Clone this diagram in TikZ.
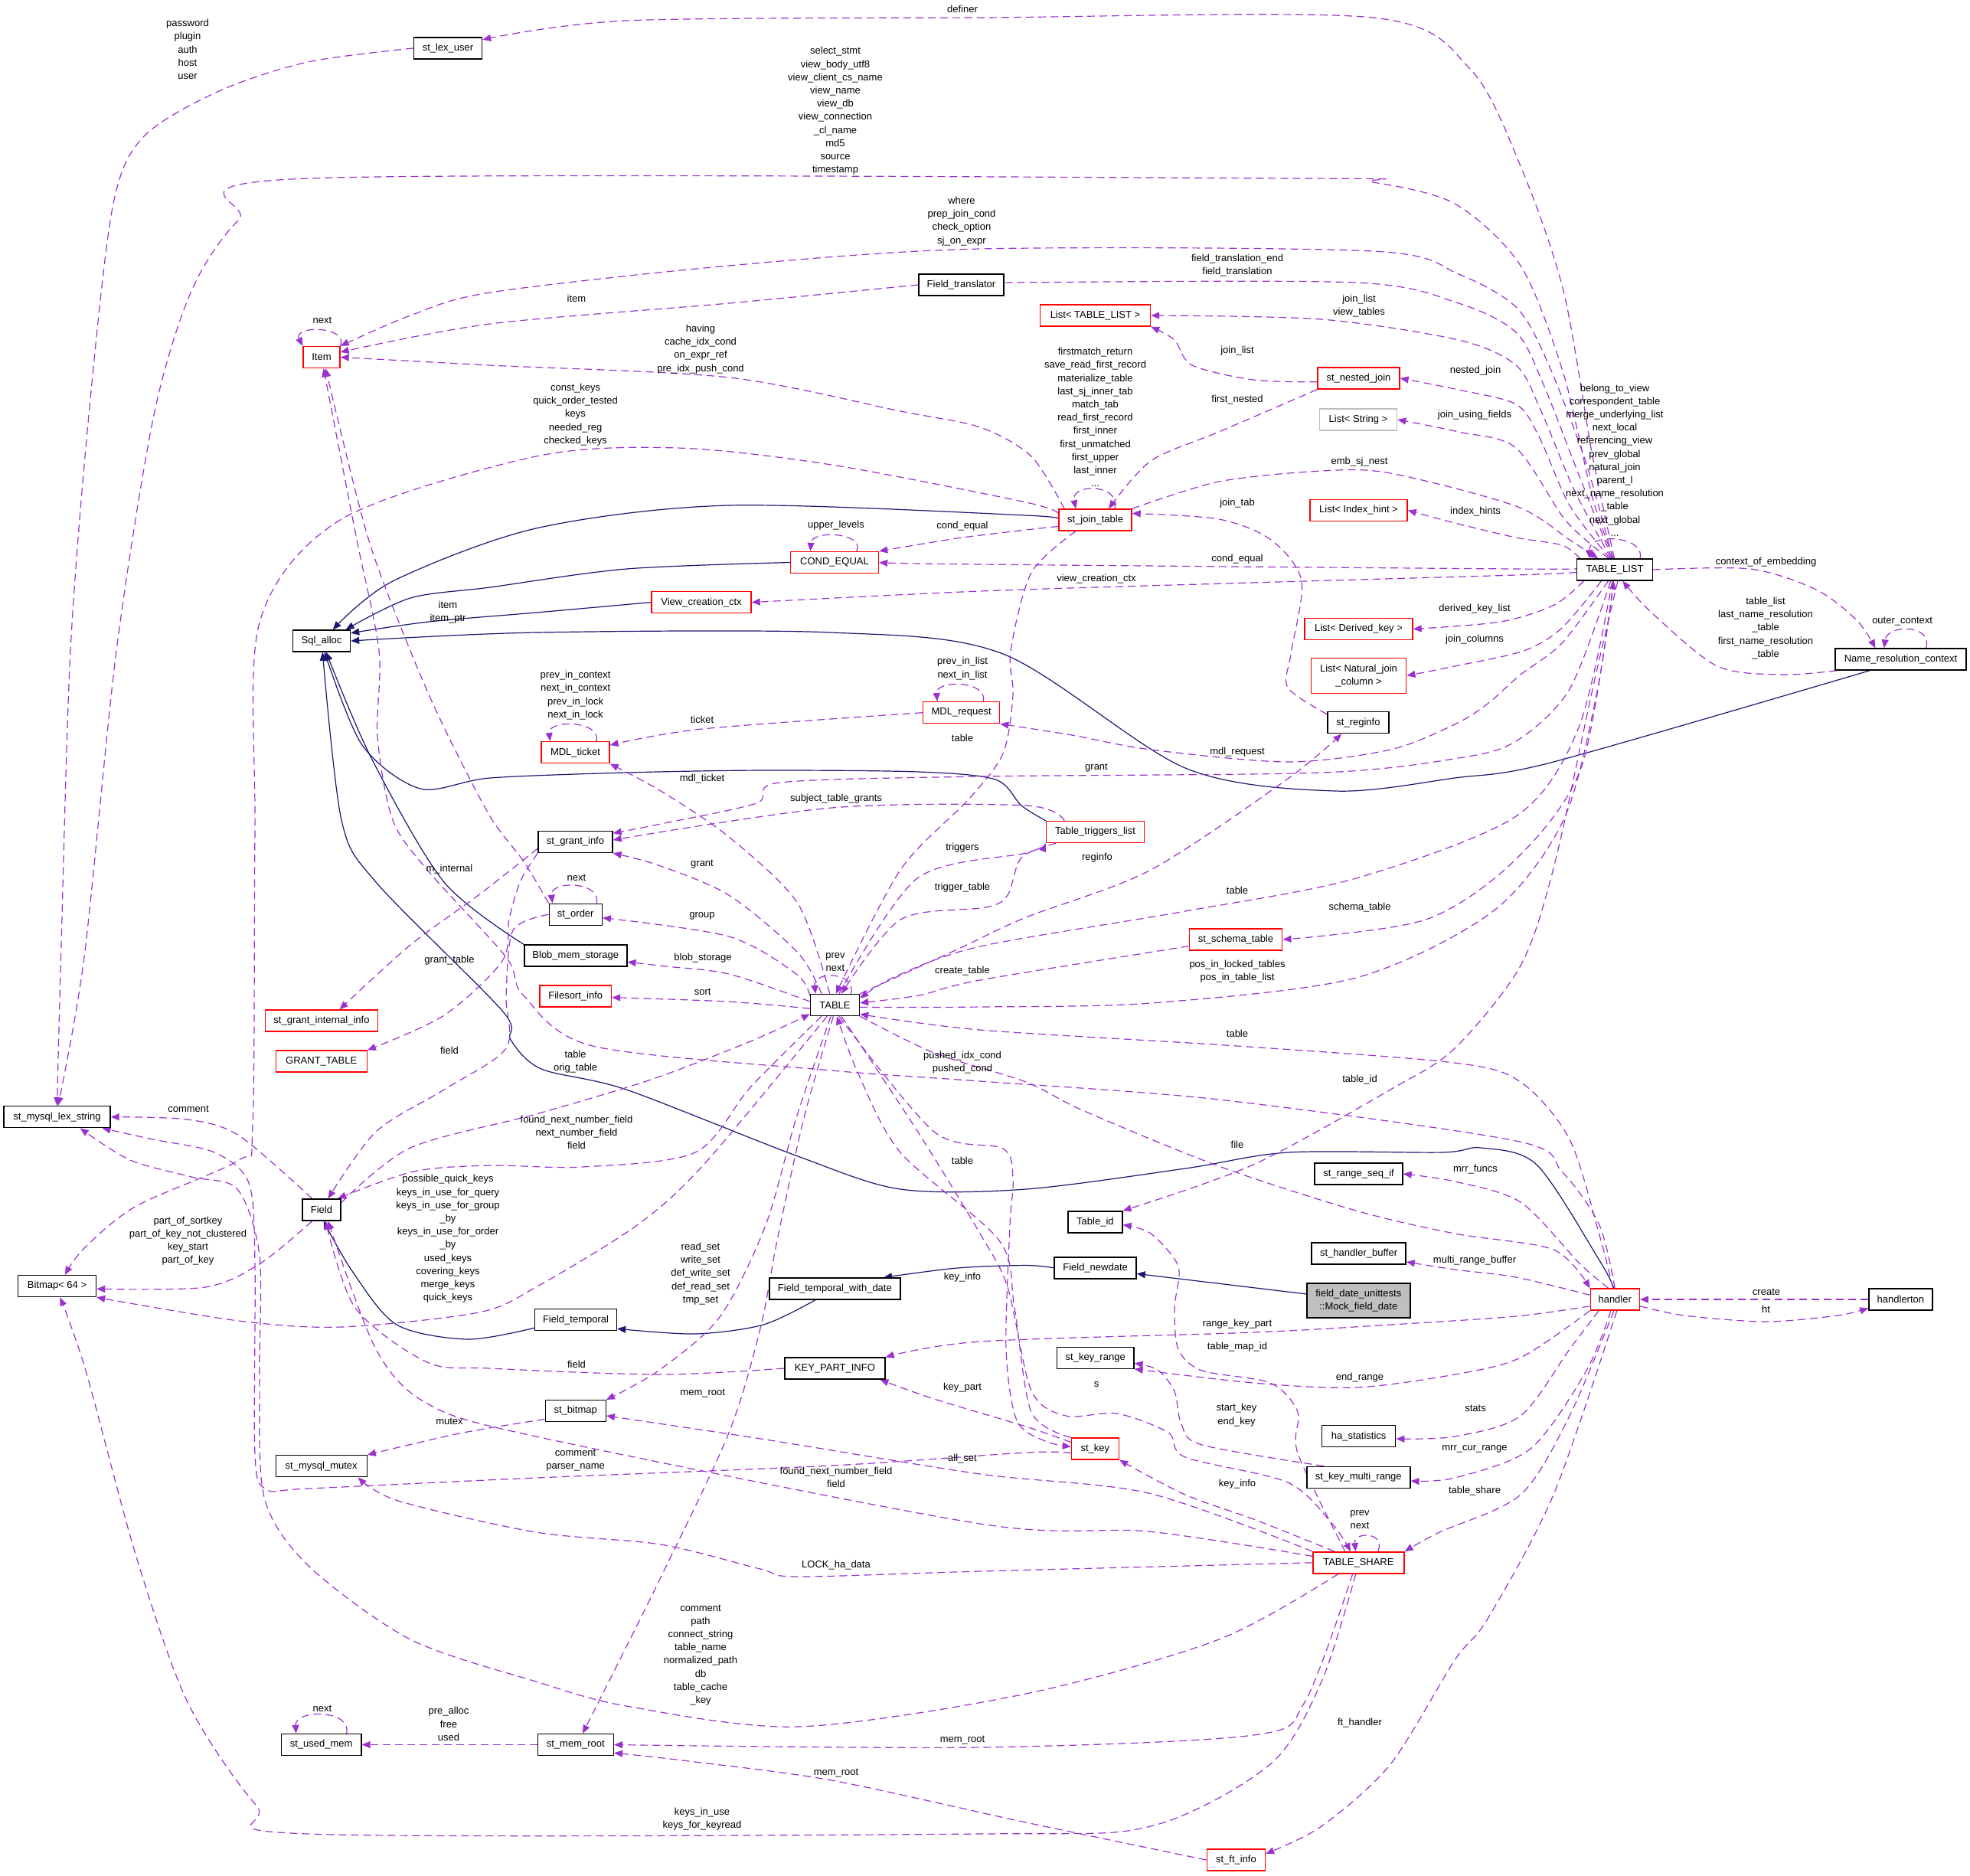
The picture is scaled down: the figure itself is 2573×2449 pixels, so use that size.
\documentclass[tikz,border=0pt]{standalone}
\usepackage{fontspec}
\setmainfont{Liberation Sans}
\usetikzlibrary{arrows.meta}
\pgfdeclarelayer{bg}
\pgfsetlayers{bg,main}
\definecolor{depc}{HTML}{9A32CD}
\definecolor{inhc}{HTML}{191970}
\definecolor{grc}{HTML}{BFBFBF}
\begin{document}
\begin{tikzpicture}[x=0.5pt,y=-0.5pt,
  cls/.style={draw=black, fill=white, line width=0.7pt, inner sep=0pt, minimum height=14pt, align=center, font=\fontsize{6.5}{8.6}\selectfont},
  rcls/.style={cls, draw=red},
  lbl/.style={align=center, inner sep=0pt, font=\fontsize{6.5}{8.6}\selectfont},
  dep/.style={draw=depc, line width=0.6pt, dash pattern=on 5pt off 3pt, -{Triangle[length=5.5pt,width=4.5pt]}},
  inh/.style={draw=inhc, line width=0.6pt, -{Triangle[length=5.5pt,width=4.5pt]}}
]
\useasboundingbox (0,0) rectangle (2573,2449);
% ---------- nodes ----------
\node[cls, minimum width=44.5pt] (lexuser) at (585,63) {st\_lex\_user};
\node[rcls, minimum width=24pt] (item) at (420,466.5) {Item};
\node[cls, minimum width=37.5pt] (sqlalloc) at (420,837) {Sql\_alloc};
\node[cls, minimum width=55.5pt] (ftrans) at (1255.5,372) {Field\_translator};
\node[rcls, minimum width=57.5pt] (condeq) at (1090,734.5) {COND\_EQUAL};
\node[rcls, minimum width=65pt] (vcc) at (916,786.6) {View\_creation\_ctx};
\node[rcls, minimum width=72pt] (listtl) at (1430.5,412) {List< TABLE\_LIST >};
\node[rcls, minimum width=53.5pt] (nestjoin) at (1774.5,494) {st\_nested\_join};
\node[cls, draw=grc, minimum width=50.5pt] (liststr) at (1774,548) {List< String >};
\node[rcls, minimum width=47.5pt] (jointab) at (1430.5,679) {st\_join\_table};
\node[rcls, minimum width=63.5pt] (listidx) at (1774.5,666.5) {List< Index\_hint >};
\node[rcls, minimum width=70.5pt] (listdk) at (1774.5,821.5) {List< Derived\_key >};
\node[cls, minimum width=49.5pt] (tlist) at (2109,744) {TABLE\_LIST};
\node[cls, minimum width=85.5pt] (nrc) at (2482.5,861) {Name\_resolution\_context};
\node[rcls, minimum width=62.25pt, minimum height=22.8pt] (listnjc) at (1774.5,882.4) {List< Natural\_join\\\_column >};
\node[cls, minimum width=40pt] (reginfo) at (1774,943.7) {st\_reginfo};
\node[rcls, minimum width=50pt] (mdlreq) at (1255.6,930.7) {MDL\_request};
\node[rcls, minimum width=44.5pt] (mdltick) at (751.5,982.7) {MDL\_ticket};
\node[rcls, minimum width=64pt] (ttl) at (1430.5,1086.5) {Table\_triggers\_list};
\node[cls, minimum width=48.5pt] (grantinfo) at (751.5,1099.5) {st\_grant\_info};
\node[cls, minimum width=34.5pt] (order) at (751.7,1194.3) {st\_order};
\node[cls, minimum width=67pt] (blob) at (751.8,1248) {Blob\_mem\_storage};
\node[rcls, minimum width=46.75pt] (filesort) at (751.7,1301) {Filesort\_info};
\node[cls, minimum width=32pt] (table) at (1090.5,1312.5) {TABLE};
\node[rcls, minimum width=60.75pt] (schema) at (1614,1227) {st\_schema\_table};
\node[rcls, minimum width=73.5pt] (gii) at (420,1333) {st\_grant\_internal\_info};
\node[rcls, minimum width=59.5pt] (granttab) at (419.7,1386) {GRANT\_TABLE};
\node[cls, minimum width=69.5pt] (lexstr) at (74.5,1458.7) {st\_mysql\_lex\_string};
\node[cls, minimum width=25pt] (field) at (420,1580) {Field};
\node[cls, minimum width=51pt] (bitmap) at (74.5,1679.6) {Bitmap< 64 >};
\node[cls, minimum width=53.5pt] (ftemp) at (752,1723.7) {Field\_temporal};
\node[cls, minimum width=85.5pt] (ftwd) at (1090.4,1683) {Field\_temporal\_with\_date};
\node[cls, minimum width=65.5pt] (kpi) at (1090.4,1787) {KEY\_PART\_INFO};
\node[cls, minimum width=39.5pt] (stbitmap) at (751.7,1842.6) {st\_bitmap};
\node[cls, minimum width=59.5pt] (mutex) at (419.7,1914.6) {st\_mysql\_mutex};
\node[cls, minimum width=52.25pt] (usedmem) at (419.6,2278.5) {st\_used\_mem};
\node[cls, minimum width=49.5pt] (memroot) at (751.8,2278.5) {st\_mem\_root};
\node[cls, minimum width=53.5pt] (fnewdate) at (1430.6,1655.8) {Field\_newdate};
\node[cls, fill=grc, minimum width=67.5pt, minimum height=22.5pt] (mock) at (1774.3,1698.3) {field\_date\_unittests\\::Mock\_field\_date};
\node[cls, minimum width=35.5pt] (tableid) at (1430.4,1595.8) {Table\_id};
\node[cls, minimum width=57.5pt] (rangeseq) at (1774.5,1533) {st\_range\_seq\_if};
\node[cls, minimum width=61.5pt] (hbuf) at (1774.6,1637) {st\_handler\_buffer};
\node[cls, minimum width=50.25pt] (keyrange) at (1430.7,1773.2) {st\_key\_range};
\node[rcls, minimum width=31pt] (stkey) at (1430.4,1892) {st\_key};
\node[cls, minimum width=48pt] (hastat) at (1774.6,1875.6) {ha\_statistics};
\node[cls, minimum width=67.5pt] (kmr) at (1774.3,1929.3) {st\_key\_multi\_range};
\node[rcls, minimum width=59.5pt] (tshare) at (1774.4,2040.8) {TABLE\_SHARE};
\node[rcls, minimum width=38pt] (ftinfo) at (1614.4,2429) {st\_ft\_info};
\node[rcls, minimum width=32pt] (handler) at (2109.2,1697) {handler};
\node[cls, minimum width=41.5pt] (handlerton) at (2482.4,1697) {handlerton};
% ---------- edges ----------
\begin{pgfonlayer}{bg}
% inheritance
\draw[inh] plot[smooth,tension=0.5] coordinates {(jointab.west) (1340,673) (952,660) (700,690) (513,759) (sqlalloc.45)};
\draw[inh] plot[smooth,tension=0.5] coordinates {(condeq.west) (818,743) (640,767) (536,781) (sqlalloc.25)};
\draw[inh] plot[smooth,tension=0.5] coordinates {(vcc.west) (700,800) (560,812) (sqlalloc.15)};
\draw[inh] plot[smooth,tension=0.5] coordinates {(nrc.200) (2029,995) (1900,1016) (1744,1033) (1548,1003) (1310,854) (1086,826) (700,826) (sqlalloc.east)};
\draw[inh] plot[smooth,tension=0.5] coordinates {(ttl.north west) (1334,1052) (1300,1018) (1200,1008) (997,1006) (818,1009) (640,1016) (549,1030) (473,973) (sqlalloc.-75)};
\draw[inh] plot[smooth,tension=0.5] coordinates {(blob.north west) (580,1152) (485,990) (sqlalloc.-68)};
\draw[inh] plot[smooth,tension=0.5] coordinates {(handler.95) (2089,1646) (2007,1521) (1934,1499) (1883,1505) (1682,1505) (1548,1526) (1340,1553) (1176,1553) (1042,1510) (818,1423) (707,1396) (667,1358) (656,1320) (491,1152) (446,1071) (sqlalloc.-85)};
\draw[inh] plot[smooth,tension=0.5] coordinates {(ftemp.191) (611,1749) (518,1730) (460,1660) (field.-80)};
\draw[inh] plot[smooth,tension=0.5] coordinates {(ftwd.210) (997,1730) (908,1742) (ftemp.-12)};
\draw[inh] plot[smooth,tension=0.5] coordinates {(fnewdate.west) (1340,1652.5) (1250,1656) (ftwd.13)};
\draw[inh] (mock.173) -- (fnewdate.-8);
% TABLE_LIST fan
\draw[dep] plot[smooth,tension=0.5] coordinates {(tlist.92) (2080,596) (2042,380) (1986,217) (1920,90) (1793,23) (1280,23) (818,27) (lexuser.14)};
\draw[dep] plot[smooth,tension=0.5] coordinates {(lexuser.west) (402,81) (286,119) (187,179) (147,271) (116,542) (92,850) (80,1234) (lexstr.north)};
\draw[dep] plot[smooth,tension=0.5] coordinates {(tlist.96) (2080,650) (2042,488) (1986,347) (1900,266) (1793,238) (1700,233) (402,233) (312,287) (250,380) (201,542) (152,850) (110,1250) (lexstr.85)};
\draw[dep] plot[smooth,tension=0.5] coordinates {(tlist.100) (2070,600) (2020,470) (1980,401) (1905,358) (1793,328) (1280,325) (952,347) (640,382) (536,412) (item.north east)};
\draw[dep] plot[smooth,tension=0.5] coordinates {(tlist.104) (2062,620) (2015,500) (1980,434) (1905,396) (1771,369) (1325,369) (ftrans.east)};
\draw[dep] plot[smooth,tension=0.5] coordinates {(tlist.108) (2056,640) (2012,535) (1980,477) (1905,444) (1726,417) (listtl.east)};
\draw[dep] plot[smooth,tension=0.5] coordinates {(tlist.113) (2050,660) (2010,570) (1980,528) (1905,509) (nestjoin.east)};
\draw[dep] plot[smooth,tension=0.5] coordinates {(tlist.118) (2045,680) (1980,585) (1905,564) (liststr.east)};
\draw[dep] plot[smooth,tension=0.5] coordinates {(jointab.north east) (1592,629) (1726,615) (1816,618) (1980,661) (2050,705) (tlist.146)};
\draw[dep] plot[smooth,tension=0.5] coordinates {(tlist.162) (2040,712) (1980,702) (1900,683) (listidx.east)};
\draw[dep] plot[smooth,tension=0.5] coordinates {(tlist.178) (1980,743) (1280,737) (condeq.east)};
\draw[dep] plot[smooth,tension=0.5] coordinates {(tlist.184) (1980,751) (1600,762) (1280,772) (vcc.east)};
\draw[dep] plot[smooth,tension=0.5] coordinates {(tlist.200) (2030,790) (1960,812) (listdk.east)};
\draw[dep] plot[smooth,tension=0.5] coordinates {(tlist.220) (2040,820) (1990,850) (1900,870) (listnjc.east)};
\draw[dep] plot[smooth,tension=0.5] coordinates {(tlist.240) (2040,840) (1986,881) (1943,919) (1900,946) (1816,979) (1682,995) (1503,979) (1400,960) (mdlreq.south east)};
\draw[dep] plot[smooth,tension=0.5] coordinates {(tlist.250) (2050,900) (1980,968) (1905,990) (1726,1009) (1280,1014) (1019,1022) (988,1049) (863,1076) (grantinfo.13)};
\draw[dep] plot[smooth,tension=0.5] coordinates {(tlist.258) (2062,950) (1980,1066) (1771,1147) (1548,1190) (1280,1236) (1170,1275) (table.15)};
\draw[dep] plot[smooth,tension=0.5] coordinates {(tlist.264) (2066,1000) (1980,1122) (1862,1201) (schema.east)};
\draw[dep] plot[smooth,tension=0.5] coordinates {(tlist.-75) (2080,900) (2030,1130) (1986,1261) (1900,1369) (1816,1423) (1637,1521) (tableid.north east)};
\draw[dep] plot[smooth,tension=0.5] coordinates {(table.-5) (1280,1315) (1503,1310) (1771,1277) (1950,1190) (2042,1071) (2085,908) (tlist.-95)};
\draw[dep] plot[smooth,tension=0.5] coordinates {(nrc.190) (2329,881) (2243,870) (2157,800) (tlist.-55)};
\draw[dep] plot[smooth,tension=0.5] coordinates {(tlist.east) (2286,743) (2372,770) (2425,810) (nrc.156)};
\draw[dep] (nrc.24) .. controls (2525,815) and (2465,815) .. (nrc.146);
\draw[dep] (tlist.24) .. controls (2150,700) and (2075,695) .. (tlist.156);
% st_join_table
\draw[dep] plot[smooth,tension=0.5] coordinates {(jointab.160) (1347,596) (1280,558) (1176,537) (952,493) (640,477) (item.east)};
\draw[dep] plot[smooth,tension=0.5] coordinates {(jointab.170) (1340,656) (1086,607) (885,585) (700,596) (446,678) (339,813) (333,1085) (330,1472) (312,1515) (178,1575) (110,1630) (bitmap.55)};
\draw[dep] plot[smooth,tension=0.5] coordinates {(jointab.190) (1340,692) (1250,703) (condeq.north east)};
\draw[dep] plot[smooth,tension=0.5] coordinates {(jointab.210) (1347,748) (1320,850) (1323,908) (1310,984) (1265,1044) (1176,1136) (table.85)};
\draw[dep] (jointab.30) .. controls (1465,632) and (1398,630) .. (jointab.150);
\draw[dep] plot[smooth,tension=0.5] coordinates {(nestjoin.south west) (1592,564) (1503,602) (jointab.40)};
\draw[dep] plot[smooth,tension=0.5] coordinates {(nestjoin.185) (1637,496) (1557,477) (1534,444) (listtl.south east)};
\draw[dep] plot[smooth,tension=0.5] coordinates {(reginfo.165) (1682,898) (1686,854) (1700,759) (1660,705) (1592,678) (jointab.10)};
\draw[dep] (condeq.27) .. controls (1130,695) and (1060,692) .. (condeq.155);
% Item
\draw[dep] plot[smooth,tension=0.5] coordinates {(ftrans.west) (952,396) (640,423) (item.15)};
\draw[dep] (item.north east) .. controls (455,425) and (382,425) .. (item.north west);
% TABLE
\draw[dep] plot[smooth,tension=0.5] coordinates {(table.140) (1042,1244) (952,1169) (860,1130) (grantinfo.south east)};
\draw[dep] plot[smooth,tension=0.5] coordinates {(table.160) (1040,1272) (952,1223) (order.-7)};
\draw[dep] plot[smooth,tension=0.5] coordinates {(table.172) (952,1272) (870,1262) (blob.-7)};
\draw[dep] plot[smooth,tension=0.5] coordinates {(table.188) (950,1308) (filesort.-2)};
\draw[dep] plot[smooth,tension=0.5] coordinates {(table.115) (1042,1180) (952,1093) (863,1033) (mdltick.south east)};
\draw[dep] (table.35) .. controls (1118,1268) and (1062,1268) .. (table.150);
\draw[dep] plot[smooth,tension=0.5] coordinates {(table.70) (1198,1147) (1340,1114) (ttl.south west)};
\draw[dep] plot[smooth,tension=0.5] coordinates {(ttl.196) (1334,1120) (1316,1169) (1287,1185) (1176,1201) (table.60)};
\draw[dep] plot[smooth,tension=0.5] coordinates {(table.north east) (1250,1240) (1340,1198) (1503,1136) (1682,1017) (reginfo.214)};
\draw[dep] plot[smooth,tension=0.5] coordinates {(schema.188) (1280,1280) (1200,1300) (table.5)};
\draw[dep] plot[smooth,tension=0.5] coordinates {(handler.100) (2089,1613) (2050,1488) (1986,1413) (1900,1388) (1616,1366) (1280,1345) (table.-20)};
\draw[dep] plot[smooth,tension=0.5] coordinates {(table.south east) (1220,1375) (1340,1413) (1414,1450) (1592,1523) (1771,1581) (1900,1611) (2029,1632) (handler.north west)};
\draw[dep] plot[smooth,tension=0.5] coordinates {(handler.north) (2089,1600) (2040,1530) (1980,1490) (1592,1436) (1280,1412) (1086,1398) (774,1366) (683,1299) (661,1250) (558,1136) (513,1071) (493,963) (495,850) (465,700) (item.-80)};
\draw[dep] plot[smooth,tension=0.5] coordinates {(field.20) (536,1499) (700,1455) (850,1410) (980,1360) (table.200)};
\draw[dep] plot[smooth,tension=0.5] coordinates {(table.220) (980,1420) (908,1505) (760,1524) (640,1522) (540,1530) (field.35)};
\draw[dep] plot[smooth,tension=0.5] coordinates {(table.235) (920,1520) (832,1600) (700,1681) (625,1714) (446,1733) (312,1725) (bitmap.south east)};
\draw[dep] plot[smooth,tension=0.5] coordinates {(table.250) (1040,1460) (1000,1600) (940,1720) (860,1790) (stbitmap.north east)};
\draw[dep] plot[smooth,tension=0.5] coordinates {(table.262) (1050,1460) (1015,1620) (993,1735) (952,1871) (863,2060) (memroot.58)};
\draw[dep] plot[smooth,tension=0.5] coordinates {(stkey.north west) (1347,1844) (1325,1708) (1305,1620) (1176,1505) (1120,1400) (table.-80)};
\draw[dep] plot[smooth,tension=0.5] coordinates {(table.-70) (1220,1478) (1310,1500) (1323,1540) (1319,1600) (1314,1762) (1328,1855) (1365,1882) (stkey.175)};
\draw[dep] plot[smooth,tension=0.5] coordinates {(table.-60) (1200,1480) (1280,1611) (1316,1681) (1347,1816) (1392,1849) (1459,1846) (1526,1871) (1548,1903) (1682,1936) (1740,1990) (tshare.125)};
% keys etc
\draw[dep] plot[smooth,tension=0.5] coordinates {(stkey.165) (1340,1863) (1220,1827) (kpi.-14)};
\draw[dep] plot[smooth,tension=0.5] coordinates {(kpi.west) (863,1795) (640,1787) (558,1779) (464,1708) (field.-70)};
\draw[dep] plot[smooth,tension=0.5] coordinates {(handler.195) (1980,1719) (1816,1730) (1637,1740) (1280,1752) (kpi.north east)};
\draw[dep] plot[smooth,tension=0.5] coordinates {(stkey.190) (1340,1897) (1086,1914) (700,1930) (402,1944) (348,1945) (333,1900) (333,1650) (325,1545) (280,1505) (200,1488) (lexstr.-14)};
\draw[dep] plot[smooth,tension=0.5] coordinates {(stbitmap.195) (600,1872) (mutex.north east)};
\draw[dep] plot[smooth,tension=0.5] coordinates {(tshare.north west) (1500,1950) (1280,1925) (1000,1880) (stbitmap.-9)};
\draw[dep] plot[smooth,tension=0.5] coordinates {(tshare.172) (1500,2000) (1280,1990) (700,1876) (558,1833) (491,1762) (field.-60)};
\draw[dep] plot[smooth,tension=0.5] coordinates {(tshare.west) (1280,2052) (1042,2059) (993,2049) (863,2017) (700,2001) (520,1960) (mutex.-17)};
\draw[dep] plot[smooth,tension=0.5] coordinates {(tshare.209) (1592,2141) (1340,2212) (1042,2255) (818,2228) (700,2196) (536,2141) (402,2044) (345,1955) (339,1800) (339,1640) (310,1553) (250,1537) (170,1515) (lexstr.-26)};
\draw[dep] plot[smooth,tension=0.5] coordinates {(tshare.242) (1704,2223) (1637,2266) (1280,2282) (memroot.east)};
\draw[dep] plot[smooth,tension=0.5] coordinates {(tshare.256) (1726,2196) (1659,2304) (1503,2385) (1280,2395) (402,2395) (335,2358) (245,2223) (178,2033) (112,1790) (bitmap.-75)};
\draw[dep] plot[smooth,tension=0.5] coordinates {(ftinfo.west) (1340,2380) (1086,2325) (900,2300) (memroot.-12)};
\draw[dep] plot[smooth,tension=0.5] coordinates {(handler.-80) (2029,1952) (1943,2114) (1900,2168) (1816,2304) (1726,2385) (ftinfo.12)};
\draw[dep] (memroot.west) -- (usedmem.east);
\draw[dep] (usedmem.24) .. controls (460,2232) and (385,2232) .. (usedmem.156);
\draw[dep] plot[smooth,tension=0.5] coordinates {(tshare.140) (1695,1898) (1695,1844) (1659,1806) (1570,1790) (1539,1762) (1534,1708) (1539,1654) (1503,1611) (tableid.-6)};
\draw[dep] plot[smooth,tension=0.5] coordinates {(tshare.155) (1640,1985) (1548,1952) (stkey.south east)};
\draw[dep] plot[smooth,tension=0.5] coordinates {(kmr.162) (1570,1887) (1543,1860) (1534,1817) (1512,1789) (keyrange.-8)};
\draw[dep] (tshare.30) .. controls (1810,2000) and (1768,2000) .. (tshare.105);
% handler
\draw[dep] plot[smooth,tension=0.5] coordinates {(handler.120) (2063,1650) (1986,1570) (1900,1543) (rangeseq.east)};
\draw[dep] plot[smooth,tension=0.5] coordinates {(handler.170) (1980,1668) (1900,1658) (hbuf.-10)};
\draw[dep] plot[smooth,tension=0.5] coordinates {(handler.south west) (1986,1773) (1900,1795) (1771,1812) (1637,1806) (keyrange.south east)};
\draw[dep] plot[smooth,tension=0.5] coordinates {(handler.215) (2050,1762) (1986,1849) (1900,1876) (hastat.-4)};
\draw[dep] plot[smooth,tension=0.5] coordinates {(handler.-110) (2072,1790) (1999,1892) (1900,1930) (kmr.-4)};
\draw[dep] plot[smooth,tension=0.5] coordinates {(handler.-95) (2050,1849) (1986,1952) (1880,2001) (tshare.north east)};
\draw[dep] (handlerton.west) -- (handler.east);
\draw[dep] plot[smooth,tension=0.5] coordinates {(handler.-15) (2200,1718) (2306,1726) (2400,1718) (handlerton.195)};
% order / grant / mdl
\draw[dep] (order.28) .. controls (785,1150) and (718,1150) .. (order.154);
\draw[dep] plot[smooth,tension=0.5] coordinates {(order.north west) (684,1125) (640,1066) (580,950) (536,850) (480,700) (item.-70)};
\draw[dep] plot[smooth,tension=0.5] coordinates {(order.west) (670,1215) (661,1300) (661,1369) (580,1423) (491,1478) (field.60)};
\draw[dep] plot[smooth,tension=0.5] coordinates {(grantinfo.190) (625,1169) (536,1234) (gii.32)};
\draw[dep] plot[smooth,tension=0.5] coordinates {(grantinfo.south west) (680,1150) (665,1200) (656,1255) (580,1326) (granttab.north east)};
\draw[dep] plot[smooth,tension=0.5] coordinates {(ttl.160) (1340,1052) (1086,1055) (grantinfo.3)};
\draw[dep] plot[smooth,tension=0.5] coordinates {(mdlreq.west) (917,952) (mdltick.12)};
\draw[dep] (mdltick.28) .. controls (785,940) and (715,940) .. (mdltick.156);
\draw[dep] (mdlreq.27) .. controls (1290,888) and (1222,888) .. (mdlreq.155);
% Field
\draw[dep] plot[smooth,tension=0.5] coordinates {(field.130) (312,1483) (245,1462) (lexstr.east)};
\draw[dep] plot[smooth,tension=0.5] coordinates {(field.230) (340,1650) (268,1681) (bitmap.-4)};
\end{pgfonlayer}
% ---------- labels ----------
\node[lbl] at (1257,12) {definer};
\node[lbl] at (245,64.5) {password\\plugin\\auth\\host\\user};
\node[lbl] at (1091,145) {select\_stmt\\view\_body\_utf8\\view\_client\_cs\_name\\view\_name\\view\_db\\view\_connection\\\_cl\_name\\md5\\source\\timestamp};
\node[lbl] at (1256,289) {where\\prep\_join\_cond\\check\_option\\sj\_on\_expr};
\node[lbl] at (753,390) {item};
\node[lbl] at (1616,346.5) {field\_translation\_end\\field\_translation};
\node[lbl] at (1775,399.5) {join\_list\\view\_tables};
\node[lbl] at (421,418.5) {next};
\node[lbl] at (915,456) {having\\cache\_idx\_cond\\on\_expr\_ref\\pre\_idx\_push\_cond};
\node[lbl] at (1927,484) {nested\_join};
\node[lbl] at (1616,458.6) {join\_list};
\node[lbl] at (1616,522) {first\_nested};
\node[lbl] at (751.6,541.5) {const\_keys\\quick\_order\_tested\\keys\\needed\_reg\\checked\_keys};
\node[lbl] at (1926,542) {join\_using\_fields};
\node[lbl] at (1430.5,545) {firstmatch\_return\\save\_read\_first\_record\\materialize\_table\\last\_sj\_inner\_tab\\match\_tab\\read\_first\_record\\first\_inner\\first\_unmatched\\first\_upper\\last\_inner\\...};
\node[lbl] at (2109,601) {belong\_to\_view\\correspondent\_table\\merge\_underlying\_list\\next\_local\\referencing\_view\\prev\_global\\natural\_join\\parent\_l\\next\_name\_resolution\\\_table\\next\_global\\...};
\node[lbl] at (1775.5,603) {emb\_sj\_nest};
\node[lbl] at (1616,657) {join\_tab};
\node[lbl] at (1927,668) {index\_hints};
\node[lbl] at (1257,687) {cond\_equal};
\node[lbl] at (1092,686) {upper\_levels};
\node[lbl] at (1616,730) {cond\_equal};
\node[lbl] at (2306.5,734) {context\_of\_embedding};
\node[lbl] at (1432,756) {view\_creation\_ctx};
\node[lbl] at (1926,795) {derived\_key\_list};
\node[lbl] at (585,799.5) {item\\item\_ptr};
\node[lbl] at (2484.6,812) {outer\_context};
\node[lbl] at (2306,820.5) {table\_list\\last\_name\_resolution\\\_table\\first\_name\_resolution\\\_table};
\node[lbl] at (1926,835) {join\_columns};
\node[lbl] at (1257,873) {prev\_in\_list\\next\_in\_list};
\node[lbl] at (751.6,908) {prev\_in\_context\\next\_in\_context\\prev\_in\_lock\\next\_in\_lock};
\node[lbl] at (917,940) {ticket};
\node[lbl] at (1257,964) {table};
\node[lbl] at (1616,982) {mdl\_request};
\node[lbl] at (1432,1003) {grant};
\node[lbl] at (917,1017) {mdl\_ticket};
\node[lbl] at (1092,1043) {subject\_table\_grants};
\node[lbl] at (1257,1107) {triggers};
\node[lbl] at (1433,1120) {reginfo};
\node[lbl] at (917,1128.5) {grant};
\node[lbl] at (587,1135) {m\_internal};
\node[lbl] at (753,1146) {next};
\node[lbl] at (1257,1159) {trigger\_table};
\node[lbl] at (1616,1163) {table};
\node[lbl] at (1776,1185) {schema\_table};
\node[lbl] at (917,1196) {group};
\node[lbl] at (918,1251.5) {blob\_storage};
\node[lbl] at (587,1254) {grant\_table};
\node[lbl] at (1091,1256.5) {prev\\next};
\node[lbl] at (1257,1268) {create\_table};
\node[lbl] at (1616,1269) {pos\_in\_locked\_tables\\pos\_in\_table\_list};
\node[lbl] at (917.7,1295.5) {sort};
\node[lbl] at (1616,1350) {table};
\node[lbl] at (587,1372) {field};
\node[lbl] at (751.6,1386.5) {table\\orig\_table};
\node[lbl] at (1257,1388) {pushed\_idx\_cond\\pushed\_cond};
\node[lbl] at (1776,1410) {table\_id};
\node[lbl] at (246,1448) {comment};
\node[lbl] at (753,1479) {found\_next\_number\_field\\next\_number\_field\\field};
\node[lbl] at (1616,1495) {file};
\node[lbl] at (1257,1515.6) {table};
\node[lbl] at (1927,1527.5) {mrr\_funcs};
\node[lbl] at (585,1618) {possible\_quick\_keys\\keys\_in\_use\_for\_query\\keys\_in\_use\_for\_group\\\_by\\keys\_in\_use\_for\_order\\\_by\\used\_keys\\covering\_keys\\merge\_keys\\quick\_keys};
\node[lbl] at (245.5,1620.5) {part\_of\_sortkey\\part\_of\_key\_not\_clustered\\key\_start\\part\_of\_key};
\node[lbl] at (1926,1646.6) {multi\_range\_buffer};
\node[lbl] at (915,1663.5) {read\_set\\write\_set\\def\_write\_set\\def\_read\_set\\tmp\_set};
\node[lbl] at (1257,1668) {key\_info};
\node[lbl] at (2307,1687) {create};
\node[lbl] at (2306.5,1710) {ht};
\node[lbl] at (1616,1729) {range\_key\_part};
\node[lbl] at (1616,1759) {table\_map\_id};
\node[lbl] at (753,1782) {field};
\node[lbl] at (1776,1799) {end\_range};
\node[lbl] at (1432,1808) {s};
\node[lbl] at (1257,1812) {key\_part};
\node[lbl] at (917.7,1820) {mem\_root};
\node[lbl] at (1615,1848) {start\_key\\end\_key};
\node[lbl] at (1927,1839) {stats};
\node[lbl] at (587,1856) {mutex};
\node[lbl] at (1926,1892) {mrr\_cur\_range};
\node[lbl] at (751.6,1907.5) {comment\\parser\_name};
\node[lbl] at (1257,1904.6) {all\_set};
\node[lbl] at (1092,1929) {found\_next\_number\_field\\field};
\node[lbl] at (1616,1938) {key\_info};
\node[lbl] at (1926,1947) {table\_share};
\node[lbl] at (1776,1984.5) {prev\\next};
\node[lbl] at (1092,2044) {LOCK\_ha\_data};
\node[lbl] at (915,2161.5) {comment\\path\\connect\_string\\table\_name\\normalized\_path\\db\\table\_cache\\\_key};
\node[lbl] at (421,2231) {next};
\node[lbl] at (586,2251.5) {pre\_alloc\\free\\used};
\node[lbl] at (1776,2250) {ft\_handler};
\node[lbl] at (1257,2272.6) {mem\_root};
\node[lbl] at (1092,2316) {mem\_root};
\node[lbl] at (917,2375.5) {keys\_in\_use\\keys\_for\_keyread};
\end{tikzpicture}
\end{document}
